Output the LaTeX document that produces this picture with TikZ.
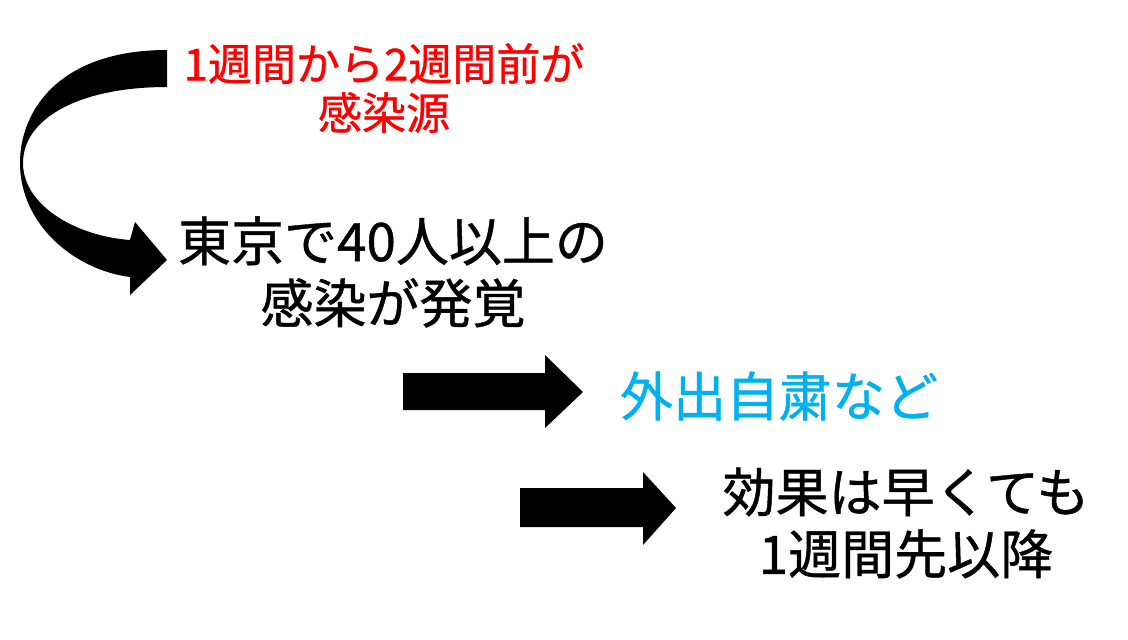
\documentclass[tikz,border=0pt]{standalone}
\usepackage{fontspec}
\setmainfont{Noto Sans CJK JP}[FakeBold=0.8]
\definecolor{redtxt}{RGB}{255,0,0}
\definecolor{bluetxt}{RGB}{0,176,240}
\tikzset{
  big/.style={font=\fontsize{53}{62}\selectfont, align=center, inner sep=0pt},
  small/.style={font=\fontsize{44}{49}\selectfont, align=center, inner sep=0pt, text=redtxt},
  blockarrow/.style={fill=black, draw=none}
}
\begin{document}
\begin{tikzpicture}[x=1pt,y=-1pt]
\useasboundingbox (0,0) rectangle (1128,640);
% texts
\node[small] (src) at (384,88) {1週間から2週間前が\\感染源};
\node[big] (found) at (393,272) {東京で40人以上の\\感染が発覚};
\node[big, text=bluetxt] (stay) at (779,396) {外出自粛など};
\node[big] (effect) at (906,523) {効果は早くても\\1週間先以降};
% curved arrow
\fill[blockarrow] (167,50) .. controls (60,50) and (20,110) .. (20,163)
  .. controls (20,225) and (75,270) .. (130,277)
  -- (130,295) -- (167,260) -- (135,222) -- (130,240)
  .. controls (75,236) and (23,205) .. (23,163)
  .. controls (23,118) and (80,87) .. (167,87) -- cycle;
% straight arrows
\fill[blockarrow] (403,373) -- (545,373) -- (545,355) -- (583,392) -- (545,428) -- (545,410) -- (403,410) -- cycle;
\fill[blockarrow] (520,488) -- (643,488) -- (643,472) -- (676,508) -- (643,545) -- (643,527) -- (520,527) -- cycle;
\end{tikzpicture}
\end{document}
